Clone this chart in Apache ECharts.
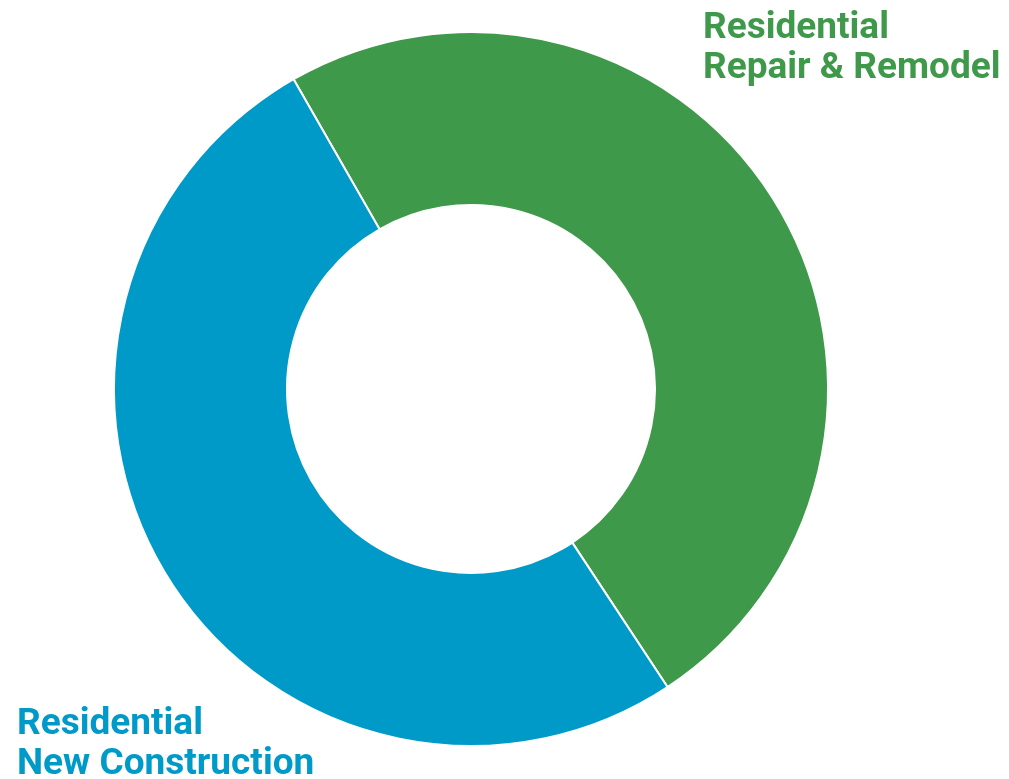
<!DOCTYPE html>
<html>
<head>
<meta charset="utf-8">
<style>
  html, body { margin: 0; padding: 0; background: #ffffff; }
  #chart { width: 1009px; height: 779px; }
</style>
<script src="https://cdn.jsdelivr.net/npm/echarts@6/dist/echarts.min.js"></script>
</head>
<body>
<div id="chart"></div>
<script>
// Segment names and their shares of the market (percent)
const categories = ['Residential\nRepair & Remodel', 'Residential\nNew Construction'];
const shares = [49, 51];
const colors = ['#3f994a', '#009ac9'];

const chart = echarts.init(document.getElementById('chart'), null, { renderer: 'canvas' });

const labelFont = 'bold 37px Roboto, "Noto Sans", sans-serif';

chart.setOption({
  animation: false,
  backgroundColor: '#ffffff',
  graphic: [
    {
      type: 'text',
      left: 703,
      top: 9,
      style: {
        text: categories[0],
        font: labelFont,
        fill: colors[0],
        lineHeight: 40
      }
    },
    {
      type: 'text',
      left: 17,
      top: 705,
      style: {
        text: categories[1],
        font: labelFont,
        fill: colors[1],
        lineHeight: 40
      }
    }
  ],
  series: [
    {
      type: 'pie',
      center: [471, 389],
      radius: [184, 357],
      startAngle: 119.8,
      clockwise: true,
      silent: true,
      label: { show: false },
      labelLine: { show: false },
      itemStyle: { borderColor: '#ffffff', borderWidth: 2 },
      data: categories.map((name, i) => ({
        name: name,
        value: shares[i],
        itemStyle: { color: colors[i] }
      }))
    }
  ]
});
</script>
</body>
</html>
